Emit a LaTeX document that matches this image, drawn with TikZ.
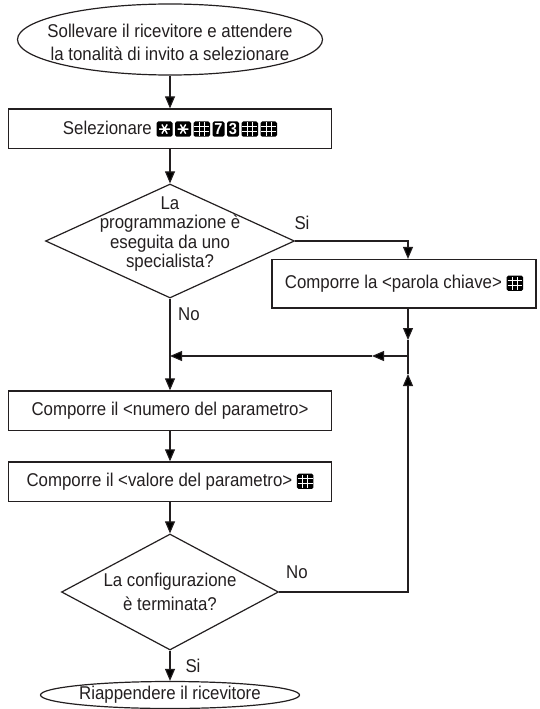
\documentclass[tikz,border=0pt]{standalone}
\usepackage{fontspec}
\setmainfont{Liberation Sans}[FakeStretch=0.91]
\usetikzlibrary{shapes.geometric,arrows.meta}
\definecolor{ink}{HTML}{231F20}
\newcommand{\fs}{\fontsize{18.5}{23}\selectfont}
\newcommand{\kbg}[1]{\fill[black,rounded corners=1.6pt] (0,-2.4) rectangle (#1,12.8);}
\newcommand{\khash}{\tikz[x=1pt,y=1pt,baseline=0pt]{\kbg{16.5}\draw[white,line width=1.1pt] (5.8,-1.4)--(5.8,11.8) (10.7,-1.4)--(10.7,11.8) (0.9,2.7)--(15.6,2.7) (0.9,7.7)--(15.6,7.7);}}
\newcommand{\kstar}{\tikz[x=1pt,y=1pt,baseline=0pt]{\kbg{16}\draw[white,line width=1.4pt] (8,5.2) +(0:5.3)--+(180:5.3) +(60:5.3)--+(240:5.3) +(120:5.3)--+(300:5.3);}}
\newcommand{\kdig}[1]{\tikz[x=1pt,y=1pt,baseline=0pt]{\kbg{12}\node[shape=rectangle,draw=none,fill=none,inner sep=0pt,minimum width=0pt,minimum height=0pt,text=white,font=\fontsize{16}{16}\selectfont\bfseries,anchor=base] at (6,0) {#1};}}
\newcommand{\kg}{\hspace{2.5pt}}
\tikzset{
  shp/.style={draw=ink,line width=1.2pt},
  boxn/.style={shp,shape=rectangle,inner sep=0pt,font=\fs,text=ink},
  dia/.style={shp,shape=diamond,inner sep=0pt},
  ell/.style={shp,shape=ellipse,inner sep=0pt},
  txt/.style={inner sep=0pt,align=center,text=ink},
  lbl/.style={inner sep=0pt,font=\fs,text=ink},
  con/.style={draw=ink,line width=1.1pt},
  arr/.style={con,-{Triangle[length=12pt,width=10pt]}}
}
\begin{document}
\begin{tikzpicture}[x=1pt,y=-1pt]
\useasboundingbox (0,0) rectangle (540,709);
% shapes
\node[ell,minimum width=305pt,minimum height=71pt] (e1) at (170,39.5) {};
\node[txt,font={\fontsize{18.5}{23}\selectfont}] (e1t) at (170,42) {Sollevare il ricevitore e attendere\\la tonalità di invito a selezionare};
\node[boxn,minimum width=323pt,minimum height=39.5pt] (b1) at (170,128.75)
  {Selezionare\ \kstar\kg\kstar\kg\khash\kg\kdig{7}\kg\kdig{3}\kg\khash\kg\khash};
\node[dia,minimum width=249pt,minimum height=114pt] (d1) at (170,241) {};
\node[txt,font={\fontsize{18.5}{19.5}\selectfont}] (d1t) at (170,234) {La\\programmazione è\\eseguita da uno\\specialista?};
\node[boxn,minimum width=264pt,minimum height=48.5pt] (b2) at (404,283.75) {Comporre la <parola chiave> \khash};
\node[boxn,minimum width=323pt,minimum height=39.5pt] (b3) at (170,410.7) {Comporre il <numero del parametro>};
\node[boxn,minimum width=323pt,minimum height=39.5pt] (b4) at (170,481.7) {Comporre il <valore del parametro> \khash};
\node[dia,minimum width=217pt,minimum height=116pt] (d2) at (170,592) {};
\node[txt,font={\fontsize{18.5}{24}\selectfont}] (d2t) at (170,592) {La configurazione\\è terminata?};
\node[ell,minimum width=259pt,minimum height=27pt] (e2) at (170,695) {};
\node[txt,font=\fs] (e2t) at (170,694.5) {Riappendere il ricevitore};
% labels
\node[lbl] (si1) at (302,223) {Si};
\node[lbl] (no1) at (189,314) {No};
\node[lbl] (no2) at (297,572) {No};
\node[lbl] (si2) at (193,666) {Si};
% helper coordinates
\coordinate (j) at (408,356);
\coordinate (m) at (170,356);
\coordinate (a1) at (408,340);
\coordinate (a2) at (372,356);
\coordinate (a3) at (408,374);
% connectors
\draw[arr] (e1.south) -- (b1.north);
\draw[arr] (b1.south) -- (d1.north);
\draw[arr] (d1.east) -| (j |- b2.north);
\draw[arr] (j |- b2.south) -- (a1);
\draw[con] (a1) -- (j);
\draw[arr] (j) -- (a2);
\draw[arr] (a2) -- (m);
\draw[arr] (d1.south) -- (b3.north);
\draw[arr] (b3.south) -- (b4.north);
\draw[arr] (b4.south) -- (d2.north);
\draw[arr] (d2.east) -| (a3);
\draw[con] (a3) -- (j);
\draw[arr] (d2.south) -- (e2.north);
\end{tikzpicture}
\end{document}
